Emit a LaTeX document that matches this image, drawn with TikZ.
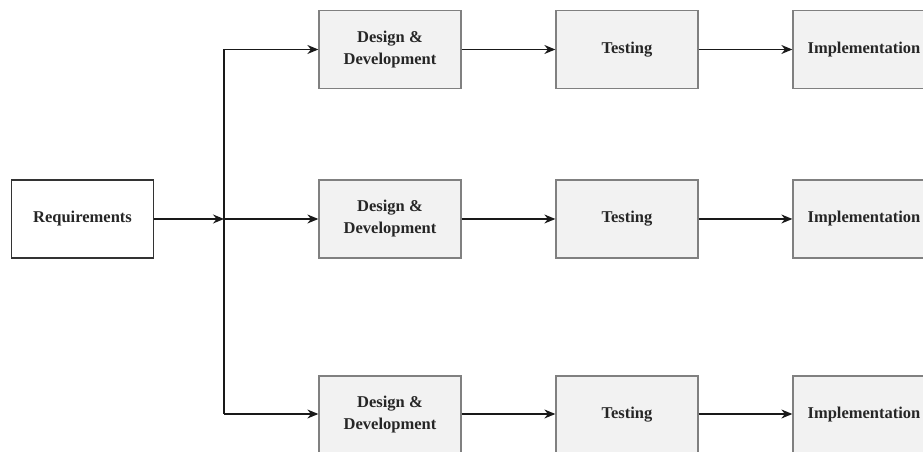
\documentclass[tikz,border=0pt]{standalone}
\usepackage{fontspec}
\setmainfont{Liberation Serif}
\usetikzlibrary{arrows.meta}

\begin{document}
\begin{tikzpicture}[x=1pt,y=1pt,
  stagebox/.style={draw=black!50, line width=1.3pt, fill=black!5,
    minimum width=142pt, minimum height=78pt, align=center, inner sep=2pt,
    font=\fontsize{16.5}{22}\selectfont\bfseries, text=black!85},
  startbox/.style={stagebox, draw=black!80, fill=white},
  flow/.style={line width=1.3pt, draw=black!90, -{Stealth[length=11pt,width=9pt]}}]
\useasboundingbox (0,0) rectangle (923,452);
% input
\node[startbox] (req) at (82.5,233) {Requirements};
% three parallel lines
\node[stagebox] (dd1) at (390,402.5) {Design \&\\Development};
\node[stagebox] (ts1) at (627,402.5) {Testing};
\node[stagebox] (im1) at (864,402.5) {Implementation};
\node[stagebox] (dd2) at (390,233) {Design \&\\Development};
\node[stagebox] (ts2) at (627,233) {Testing};
\node[stagebox] (im2) at (864,233) {Implementation};
\node[stagebox] (dd3) at (390,37) {Design \&\\Development};
\node[stagebox] (ts3) at (627,37) {Testing};
\node[stagebox] (im3) at (864,37) {Implementation};
% split
\coordinate (jtop) at (224,402.5);
\coordinate (jmid) at (224,233);
\coordinate (jbot) at (224,38);
\draw[flow] (req) -- (jmid);
\draw[line width=1.3pt, draw=black!90] (jtop) -- (jbot);
\draw[flow] (jtop) -- (dd1);
\draw[flow] (jmid) -- (dd2);
\draw[flow] (jbot) -- (dd3.west |- jbot);
\draw[flow] (dd1) -- (ts1);
\draw[flow] (ts1) -- (im1);
\draw[flow] (dd2) -- (ts2);
\draw[flow] (ts2) -- (im2);
\draw[flow] (dd3.east |- jbot) -- (ts3.west |- jbot);
\draw[flow] (ts3.east |- jbot) -- (im3.west |- jbot);
\end{tikzpicture}
\end{document}
